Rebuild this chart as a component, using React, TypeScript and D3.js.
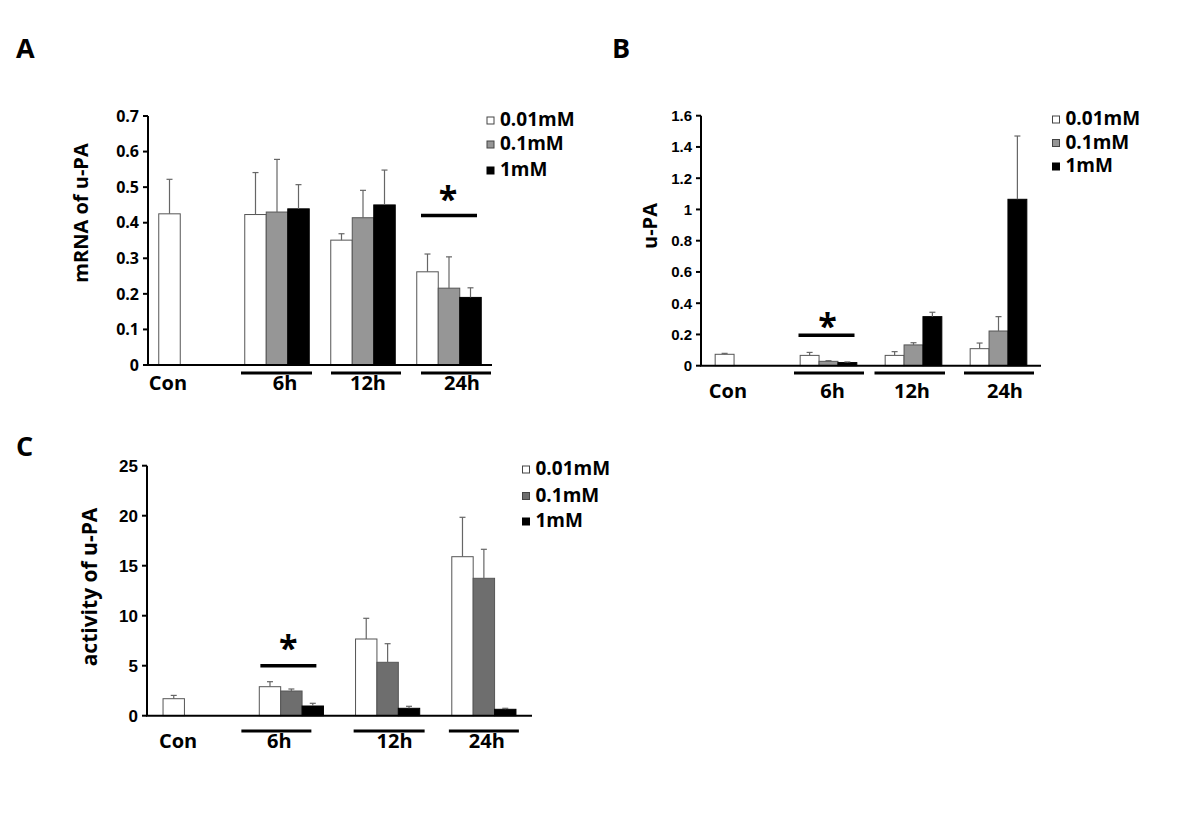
import React from 'react';
import * as d3 from 'd3';

const categories = ['Con', '6h', '12h', '24h'];
const seriesNames = ['0.01mM', '0.1mM', '1mM'];

// panel A: mRNA of u-PA
const aLow = [0.425, 0.423, 0.351, 0.262];
const aMid = [null, 0.43, 0.414, 0.216];
const aHigh = [null, 0.439, 0.45, 0.19];
const aLowSd = [0.097, 0.118, 0.018, 0.05];
const aMidSd = [null, 0.148, 0.077, 0.088];
const aHighSd = [null, 0.068, 0.098, 0.027];
const aTicks = [0, 0.1, 0.2, 0.3, 0.4, 0.5, 0.6, 0.7];

// panel B: u-PA
const bLow = [0.073, 0.066, 0.066, 0.109];
const bMid = [null, 0.028, 0.133, 0.222];
const bHigh = [null, 0.02, 0.314, 1.065];
const bLowSd = [0.006, 0.019, 0.024, 0.036];
const bMidSd = [null, 0.004, 0.014, 0.092];
const bHighSd = [null, 0.004, 0.028, 0.405];
const bTicks = [0, 0.2, 0.4, 0.6, 0.8, 1, 1.2, 1.4, 1.6];

// panel C: activity of u-PA
const cLow = [1.7, 2.9, 7.67, 15.9];
const cMid = [null, 2.47, 5.34, 13.74];
const cHigh = [null, 0.97, 0.74, 0.64];
const cLowSd = [0.33, 0.5, 2.07, 3.94];
const cMidSd = [null, 0.2, 1.86, 2.9];
const cHighSd = [null, 0.27, 0.2, 0.1];
const cTicks = [0, 5, 10, 15, 20, 25];

const titleFont = "'Open Sans', sans-serif";

const panels = [
  {
    letter: 'A', lx: 16, ly: 58,
    x0: 148, x1: 492, y0: 365, y1: 116, yMax: 0.7, gap: 1,
    values: [aLow, aMid, aHigh], sds: [aLowSd, aMidSd, aHighSd],
    ticks: aTicks, tickFont: titleFont, tickSize: 16,
    fills: ['#ffffff', '#969696', '#000000'],
    yLabel: 'mRNA of u-PA', yLabelX: 81, yLabelY: 213, yLabelSize: 20,
    catDx: [-23, 8, 5, 13], catY: 390,
    underY: 373, under: [null, [-36, 35], [-32, 38], [-28, 42]],
    sig: { cat: 3, v: 0.42, dx: [-28, 28], starDx: -1, starDy: -22 },
    legX: 487, legY: [126, 150, 176],
  },
  {
    letter: 'B', lx: 612, ly: 58,
    x0: 701, x1: 1041, y0: 365.7, y1: 115.7, yMax: 1.6, gap: 1.5,
    values: [bLow, bMid, bHigh], sds: [bLowSd, bMidSd, bHighSd],
    ticks: bTicks, tickFont: "'Liberation Sans', Arial, sans-serif", tickSize: 15,
    fills: ['#ffffff', '#969696', '#000000'],
    yLabel: 'u-PA', yLabelX: 650, yLabelY: 226, yLabelSize: 20,
    catDx: [-15.5, 4, -1.5, 6.5], catY: 398,
    underY: 373, under: [null, [-34.5, 35.5], [-39, 31.5], [-34.5, 35.5]],
    sig: { cat: 1, v: 0.195, dx: [-30, 26], starDx: 1, starDy: -14 },
    legX: 1052.5, legY: [125, 148.5, 172],
  },
  {
    letter: 'C', lx: 16, ly: 456,
    x0: 147, x1: 532, y0: 715.7, y1: 465.7, yMax: 25, gap: 1.5,
    values: [cLow, cMid, cHigh], sds: [cLowSd, cMidSd, cHighSd],
    ticks: cTicks, tickFont: "'Liberation Sans Narrow', 'Liberation Sans', Arial, sans-serif", tickSize: 17,
    fills: ['#ffffff', '#6e6e6e', '#000000'],
    yLabel: 'activity of u-PA', yLabelX: 90, yLabelY: 587, yLabelSize: 21,
    catDx: [-17, -12, 7, 3], catY: 748,
    underY: 731, under: [null, [-50, 20], [-34, 37], [-35, 35]],
    sig: { cat: 1, v: 5.0, dx: [-31, 25], starDx: 0, starDy: -23 },
    legX: 522.5, legY: [475, 501.5, 527],
  },
];

const Panel = ({ p }) => {
  const x = d3.scaleBand().domain(categories).range([p.x0, p.x1]);
  const xs = d3
    .scaleBand()
    .domain(seriesNames)
    .range([0, x.bandwidth()])
    .paddingInner(0)
    .paddingOuter(p.gap / 2);
  const y = d3.scaleLinear().domain([0, p.yMax]).range([p.y0, p.y1]);
  const bw = xs.bandwidth();
  const center = c => x(c) + x.bandwidth() / 2;
  const sigC = center(categories[p.sig.cat]);

  return (
    <g>
      <text x={p.lx} y={p.ly} fontFamily={titleFont} fontWeight='bold' fontSize={27}>
        {p.letter}
      </text>

      {/* bars */}
      {seriesNames.map((s, si) =>
        categories.map((c, ci) => {
          const v = p.values[si][ci];
          if (v == null) return null;
          const bx = x(c) + xs(s);
          const top = y(v);
          const errTop = y(v + p.sds[si][ci]);
          const mid = bx + bw / 2;
          return (
            <g key={s + c}>
              <rect
                x={bx}
                y={top}
                width={bw}
                height={y(0) - top}
                fill={p.fills[si]}
                stroke={si === 2 ? '#000' : '#555'}
                strokeWidth={1}
              />
              <line x1={mid} x2={mid} y1={top} y2={errTop} stroke='#666' strokeWidth={1.2} />
              <line x1={mid - 3} x2={mid + 3} y1={errTop} y2={errTop} stroke='#666' strokeWidth={1.2} />
            </g>
          );
        })
      )}

      {/* y axis */}
      <line x1={p.x0} x2={p.x0} y1={y(p.yMax)} y2={y(0)} stroke='#000' strokeWidth={2} />
      {p.ticks.map(t => (
        <g key={t}>
          <line x1={p.x0 - 5} x2={p.x0} y1={y(t)} y2={y(t)} stroke='#000' strokeWidth={2} />
          <text
            x={p.x0 - 9}
            y={y(t)}
            dy='0.36em'
            textAnchor='end'
            fontFamily={p.tickFont}
            fontWeight='bold'
            fontSize={p.tickSize}>
            {String(t)}
          </text>
        </g>
      ))}
      <text
        transform={`translate(${p.yLabelX}, ${p.yLabelY}) rotate(-90)`}
        textAnchor='middle'
        dy='0.35em'
        fontFamily={titleFont}
        fontWeight='bold'
        fontSize={p.yLabelSize}>
        {p.yLabel}
      </text>

      {/* x axis */}
      <line x1={p.x0 - 1} x2={p.x1} y1={y(0)} y2={y(0)} stroke='#000' strokeWidth={2} />
      {categories.map((c, ci) => (
        <text
          key={c}
          x={center(c) + p.catDx[ci]}
          y={p.catY}
          textAnchor='middle'
          fontFamily={titleFont}
          fontWeight='bold'
          fontSize={20}>
          {c}
        </text>
      ))}
      {categories.map((c, ci) =>
        p.under[ci] ? (
          <line
            key={'u' + c}
            x1={center(c) + p.under[ci][0]}
            x2={center(c) + p.under[ci][1]}
            y1={p.underY}
            y2={p.underY}
            stroke='#000'
            strokeWidth={3}
          />
        ) : null
      )}

      {/* significance */}
      <line
        x1={sigC + p.sig.dx[0]}
        x2={sigC + p.sig.dx[1]}
        y1={y(p.sig.v)}
        y2={y(p.sig.v)}
        stroke='#000'
        strokeWidth={3.5}
      />
      <text
        x={sigC + (p.sig.dx[0] + p.sig.dx[1]) / 2 + p.sig.starDx}
        y={y(p.sig.v) + p.sig.starDy + 17}
        textAnchor='middle'
        fontFamily={titleFont}
        fontWeight='bold'
        fontSize={34}>
        *
      </text>

      {/* legend */}
      {seriesNames.map((s, si) => (
        <g key={'l' + s}>
          <rect
            x={p.legX}
            y={p.legY[si] - 9}
            width={7}
            height={7}
            fill={p.fills[si]}
            stroke={si === 2 ? '#000' : '#444'}
            strokeWidth={1}
          />
          <text
            x={p.legX + 13}
            y={p.legY[si]}
            fontFamily={titleFont}
            fontWeight='bold'
            fontSize={19}>
            {s}
          </text>
        </g>
      ))}
    </g>
  );
};

export default function App() {
  return (
    <svg
      width={1200}
      height={830}
      style={{ position: 'absolute', left: 0, top: 0, background: '#fff' }}>
      <rect width={1200} height={830} fill='#fff' />
      {panels.map(p => (
        <Panel key={p.letter} p={p} />
      ))}
    </svg>
  );
}
